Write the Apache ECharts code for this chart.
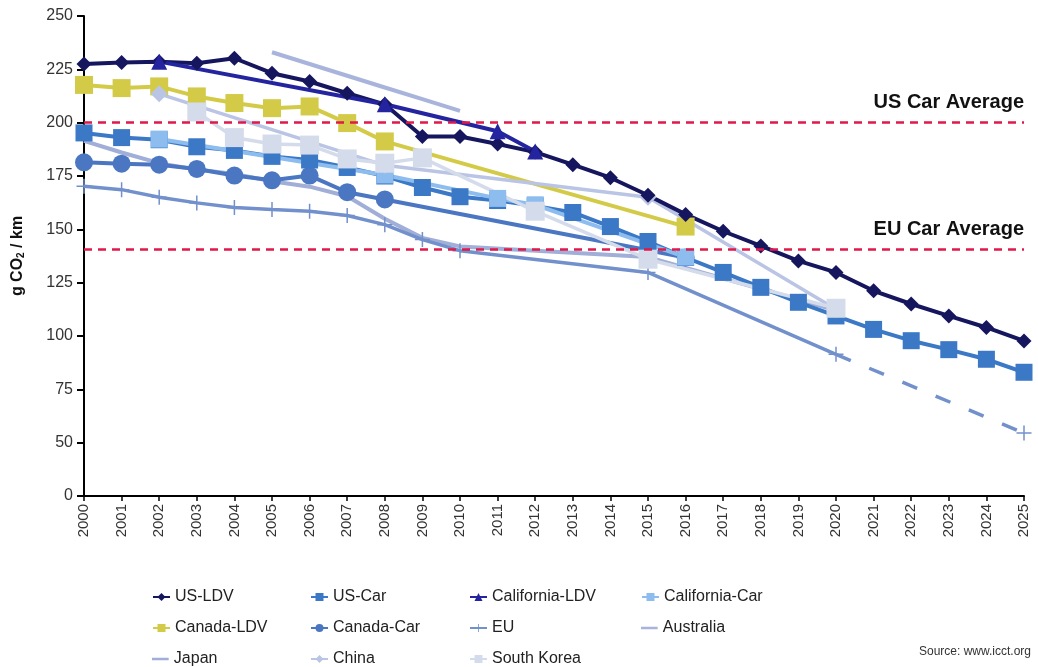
<!DOCTYPE html>
<html>
<head>
<meta charset="utf-8">
<script src="https://cdn.jsdelivr.net/npm/echarts@6/dist/echarts.min.js"></script>
<style>html,body{margin:0;padding:0;background:#fff}#c{width:1038px;height:667px}</style>
</head>
<body>
<div id="c"></div>
<script>
const years = ['2000','2001','2002','2003','2004','2005','2006','2007','2008','2009','2010','2011','2012','2013','2014','2015','2016','2017','2018','2019','2020','2021','2022','2023','2024','2025'];
// full yearly series
const usLdv = [227.5,228.2,228.6,227.9,230.2,223.2,219.3,213.8,208.6,193.5,193.5,190.0,186.2,180.3,174.2,166.0,157.0,149.1,142.2,135.2,129.8,121.2,115.0,109.4,104.0,97.7];
const usCar = [195.2,193.0,192.0,188.7,187.0,184.2,182.5,179.0,175.0,169.6,165.3,163.5,161.0,157.9,151.3,144.3,136.8,129.8,122.8,115.8,109.4,103.1,97.8,93.6,89.1,83.0];
// sparse series: [year, value]
const caLdv = [['2002',228.6],['2008',208.6],['2011',196.0],['2012',186.5]];
const caCar = [['2002',192.3],['2008',175.5],['2011',164.5],['2012',161.5],['2016',137.0]];
const cnLdv = [['2000',217.7],['2001',216.2],['2002',217.0],['2003',212.3],['2004',209.2],['2005',206.8],['2006',207.6],['2007',199.8],['2008',191.2],['2016',151.3]];
const cnCar = [['2000',181.4],['2001',180.8],['2002',180.3],['2003',178.3],['2004',175.2],['2005',173.0],['2006',175.2],['2007',167.4],['2008',164.0],['2016',136.8]];
const eu = [['2000',170.2],['2001',168.6],['2002',165.0],['2003',162.4],['2004',160.2],['2005',159.3],['2006',158.5],['2007',156.5],['2008',152.2],['2009',145.2],['2010',140.0],['2015',129.8],['2020',91.4]];
const euTarget = [['2020',91.4],['2025',54.5]];
const australia = [['2005',233.0],['2006',227.5],['2007',222.0],['2008',216.5],['2009',211.0],['2010',205.5]];
const japan = [['2000',191.5],['2001',186.0],['2002',181.0],['2003',178.0],['2004',176.0],['2005',172.5],['2006',170.0],['2007',165.5],['2008',155.0],['2009',146.0],['2010',142.0],['2015',137.0],['2020',112.0]];
const china = [['2002',213.5],['2008',180.0],['2015',165.0],['2020',112.5]];
const korea = [['2003',205.0],['2004',193.0],['2005',190.0],['2006',189.5],['2007',183.0],['2008',181.0],['2009',183.5],['2012',158.5],['2015',136.0],['2020',113.0]];
const refValues = [200, 140.5];
const refLabels = ['US Car Average', 'EU Car Average'];
const legendRows = [
  ['US-LDV', 'US-Car', 'California-LDV', 'California-Car'],
  ['Canada-LDV', 'Canada-Car', 'EU', 'Australia'],
  ['Japan', 'China', 'South Korea']
];
const lineOnly = ['Japan', 'Australia'];

const FONT = '"Liberation Sans", Arial, sans-serif';
const plusPath = 'path://M9,0h2v9h9v2h-9v9h-2v-9h-9v-2h9z';
const barIcon = 'path://M0,0h0.01v0.01h-0.01z M0,4.6h20v2.8h-20z M0,11.99h0.01v0.01h-0.01z';
const colLeft = [147, 305, 464, 636];
const rowTop = [584, 615, 646];

function line(name, data, color, symbol, size, width, extra) {
  return Object.assign({
    name: name, type: 'line', data: data, connectNulls: true,
    symbol: symbol, symbolSize: size, showSymbol: symbol !== 'none',
    lineStyle: {color: color, width: width},
    itemStyle: {color: color},
    emphasis: {disabled: true}, animation: false
  }, extra || {});
}

const legends = [];
legendRows.forEach(function (row, r) {
  row.forEach(function (name, c) {
    const item = lineOnly.indexOf(name) >= 0 ? {name: name, icon: barIcon} : {name: name};
    legends.push({
      left: colLeft[c], top: rowTop[r], itemWidth: 17, itemHeight: 10, itemGap: 5,
      selectedMode: false,
      textStyle: {fontSize: 16, color: '#222', fontFamily: FONT},
      data: [item]
    });
  });
});

const chart = echarts.init(document.getElementById('c'));
const option = {
  animation: false,
  textStyle: {fontFamily: FONT},
  grid: {left: 84, right: 14, top: 16, bottom: 171, containLabel: false},
  xAxis: {
    type: 'category', data: years, boundaryGap: false,
    axisLine: {lineStyle: {color: '#000', width: 2}},
    axisTick: {show: true, length: 5, lineStyle: {color: '#000', width: 1.5}},
    axisLabel: {rotate: 90, fontSize: 15, color: '#333', margin: 8, fontFamily: FONT}
  },
  yAxis: {
    type: 'value', min: 25, max: 250, interval: 25,
    name: 'g CO{s|2} / km', nameLocation: 'middle', nameGap: 58, nameRotate: 90,
    nameTextStyle: {fontSize: 16, fontWeight: 'bold', color: '#111', fontFamily: FONT,
      rich: {s: {fontSize: 10, fontWeight: 'bold', verticalAlign: 'bottom', padding: [6,0,0,0], fontFamily: FONT}}},
    axisLine: {show: true, lineStyle: {color: '#000', width: 2}},
    axisTick: {show: true, length: 7, lineStyle: {color: '#000', width: 2}},
    splitLine: {show: false},
    axisLabel: {fontSize: 16, color: '#333', margin: 11, fontFamily: FONT,
      formatter: function (v) { return v === 25 ? '0' : String(v); }}
  },
  legend: legends,
  title: {text: 'Source: www.icct.org', right: 2, bottom: 4,
    textStyle: {fontSize: 12, fontWeight: 'normal', color: '#333', fontFamily: FONT}},
  series: [
    line('Australia', australia, '#a8b4dc', 'none', 0, 4),
    line('Japan', japan, '#a0aed8', 'none', 0, 4),
    line('EU', eu, '#7291cc', plusPath, 15, 3.5),
    line('EU target', euTarget, '#7291cc', plusPath, 15, 3.5, {
      lineStyle: {color: '#7291cc', width: 3.5, type: [16, 20]},
      data: euTarget.map(function (d, i) { return i === 0 ? {value: d, symbol: 'none'} : d; })
    }),
    line('Canada-Car', cnCar, '#4a76c2', 'circle', 18, 4),
    line('US-Car', usCar, '#3b78c6', 'rect', 17, 4),
    line('California-Car', caCar, '#8cbdee', 'rect', 17, 4),
    line('Canada-LDV', cnLdv, '#d3cb48', 'rect', 18, 4),
    line('China', china, '#bac4e4', 'diamond', 17, 3.5),
    line('South Korea', korea, '#d4dcec', 'rect', 19, 3.5),
    line('US-LDV', usLdv, '#16165f', 'diamond', 15, 4),
    line('California-LDV', caLdv, '#2424a0', 'triangle', 16, 4, {
      markLine: {
        silent: true, symbol: ['none', 'none'],
        lineStyle: {color: '#e0194a', width: 2.5, type: [8, 6]},
        label: {show: true, position: 'insideEndTop', distance: [0, 10], fontSize: 20, fontWeight: 'bold', color: '#111', fontFamily: FONT},
        data: refValues.map(function (v, i) { return {yAxis: v, label: {formatter: refLabels[i]}}; })
      }
    })
  ]
};
chart.setOption(option);
</script>
</body>
</html>
